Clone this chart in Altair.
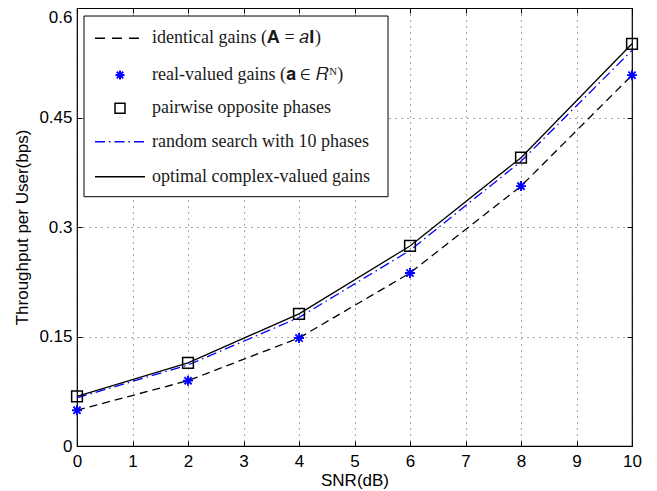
import altair as alt
import pandas as pd

# ---- data ----
snr = [0, 2, 4, 6, 8, 10]
identical_gains = [0.049, 0.0895, 0.148, 0.237, 0.356, 0.508]
real_valued_gains = [0.049, 0.0895, 0.148, 0.237, 0.356, 0.508]
pairwise_opposite = [0.068, 0.114, 0.181, 0.274, 0.395, 0.551]
random_search_10 = [0.066, 0.111, 0.176, 0.268, 0.390, 0.542]
optimal_complex = [0.068, 0.114, 0.181, 0.274, 0.395, 0.551]

x_ticks = list(range(0, 11))
y_ticks = [0, 0.15, 0.3, 0.45, 0.6]

legend_labels = [
    "identical gains (𝐀 = 𝑎𝐈)",
    "real-valued gains (𝐚 ∈ 𝑅ᴺ)",
    "pairwise opposite phases",
    "random search with 10 phases",
    "optimal complex-valued gains",
]

# ---- legend layout (in data units) ----
LEG_BOX = dict(x=0.126, x2=5.604, y=0.3415, y2=0.589)
LEG_ROWS_Y = [0.5585, 0.5082, 0.4626, 0.4168, 0.3689]
LEG_SYM_X0, LEG_SYM_X1, LEG_SYM_XC, LEG_TEXT_X = 0.324, 1.225, 0.775, 1.351

df = pd.DataFrame({
    "snr": snr,
    "identical": identical_gains,
    "real": real_valued_gains,
    "pairwise": pairwise_opposite,
    "random": random_search_10,
    "optimal": optimal_complex,
})

xs = alt.Scale(domain=[0, 10], nice=False, zero=False)
ys = alt.Scale(domain=[0, 0.6], nice=False, zero=False)

LABEL_FONT = "Liberation Sans"
SERIF = "Liberation Serif"
STAR = "M-1,0L1,0M0,-1L0,1M-0.72,-0.72L0.72,0.72M-0.72,0.72L0.72,-0.72"

x_axis_main = alt.Axis(
    values=x_ticks, title="SNR(dB)", grid=True, gridDash=[1, 5], gridColor="#000000",
    gridOpacity=0.7, gridWidth=1, domain=False, ticks=True, tickSize=5, offset=-5,
    tickColor="black", labelFont=LABEL_FONT, labelFontSize=17, labelColor="black",
    labelPadding=7, labelFlush=False, labelOverlap=False, titleFont=LABEL_FONT,
    titleFontSize=17, titleFontWeight="normal", titleColor="black", titlePadding=3,
)
y_axis_main = alt.Axis(
    values=y_ticks, labelExpr="format(datum.value, '.2~f')",
    title="Throughput per User(bps)", grid=True,
    gridDash=[1, 5], gridColor="#000000", gridOpacity=0.7, gridWidth=1, domain=False,
    ticks=True, tickSize=5, offset=-5, tickColor="black", labelFont=LABEL_FONT,
    labelFontSize=17, labelColor="black", labelPadding=5, labelFlush=False,
    labelOverlap=False,
    labelOffset={"condition": {"test": "datum.value == 0.6", "value": 9}, "value": 0},
    titleFont=LABEL_FONT, titleFontSize=17, titleFontWeight="normal",
    titleColor="black", titlePadding=7,
)
x_axis_top = alt.Axis(orient="top", values=x_ticks, labels=False, title=None, grid=False,
                      domain=False, tickSize=5, offset=-5, tickColor="black")
y_axis_right = alt.Axis(orient="right", values=y_ticks, labels=False, title=None, grid=False,
                        domain=False, tickSize=5, offset=-5, tickColor="black")

base = alt.Chart(df)

def X(field, axis=None):
    return alt.X(f"{field}:Q", scale=xs, axis=axis)

def Y(field, axis=None):
    return alt.Y(f"{field}:Q", scale=ys, axis=axis)

dashed = base.mark_line(color="black", strokeDash=[8, 5], strokeWidth=1.3).encode(
    x=X("snr", x_axis_main), y=Y("identical", y_axis_main))
dashdot = base.mark_line(color="#0000ff", strokeDash=[10, 4, 1.5, 4], strokeWidth=1.3).encode(
    x=X("snr"), y=Y("random"))
solid = base.mark_line(color="black", strokeWidth=1.3).encode(x=X("snr"), y=Y("optimal"))
stars = base.mark_point(shape=STAR, filled=False, stroke="#0000ff", strokeWidth=1.9,
                        size=100, opacity=1).encode(x=X("snr"), y=Y("real"))
squares = base.mark_point(shape="square", filled=False, stroke="black", strokeWidth=1.5,
                          size=115, opacity=1).encode(x=X("snr"), y=Y("pairwise"))
ticks_layer = base.mark_point(opacity=0).encode(
    x=X("snr", x_axis_top), y=Y("optimal", y_axis_right))

# ---- legend ----
box_df = pd.DataFrame([LEG_BOX])
box = alt.Chart(box_df).mark_rect(fill="white", stroke="black", strokeWidth=1).encode(
    x=X("x"), x2="x2:Q", y=Y("y"), y2="y2:Q")

leg_df = pd.DataFrame({
    "label": legend_labels,
    "y": LEG_ROWS_Y,
    "x0": [LEG_SYM_X0] * 5,
    "x1": [LEG_SYM_X1] * 5,
    "xc": [LEG_SYM_XC] * 5,
    "xt": [LEG_TEXT_X] * 5,
    "row": list(range(5)),
})
leg = alt.Chart(leg_df)
leg_dashed = leg.transform_filter("datum.row == 0").mark_rule(
    color="black", strokeDash=[10, 7], strokeWidth=1.5).encode(x=X("x0"), x2="x1:Q", y=Y("y"))
leg_star = leg.transform_filter("datum.row == 1").mark_point(
    shape=STAR, filled=False, stroke="#0000ff", strokeWidth=1.9, size=80, opacity=1).encode(
    x=X("xc"), y=Y("y"))
leg_square = leg.transform_filter("datum.row == 2").mark_point(
    shape="square", filled=False, stroke="black", strokeWidth=1.5, size=100, opacity=1).encode(
    x=X("xc"), y=Y("y"))
leg_dashdot = leg.transform_filter("datum.row == 3").mark_rule(
    color="#0000ff", strokeDash=[10, 4, 1.5, 4], strokeWidth=1.5).encode(
    x=X("x0"), x2="x1:Q", y=Y("y"))
leg_solid = leg.transform_filter("datum.row == 4").mark_rule(
    color="black", strokeWidth=1.5).encode(x=X("x0"), x2="x1:Q", y=Y("y"))
leg_text = leg.mark_text(align="left", baseline="middle", font=SERIF, fontSize=18,
                         color="#1a1a1a").encode(x=X("xt"), y=Y("y"), text="label:N")

chart = alt.layer(
    dashed, dashdot, solid, stars, squares,
    box, leg_dashed, leg_star, leg_square, leg_dashdot, leg_solid, leg_text,
    ticks_layer,
).resolve_axis(x="independent", y="independent").properties(
    width=555, height=438,
    padding={"left": 69, "top": 0, "right": 10, "bottom": 43},
    autosize=alt.AutoSizeParams(type="none"),
    background="white",
).configure_view(stroke="black", strokeWidth=1.2)

chart.save("out.html", embed_options={"renderer": "svg", "actions": False})
